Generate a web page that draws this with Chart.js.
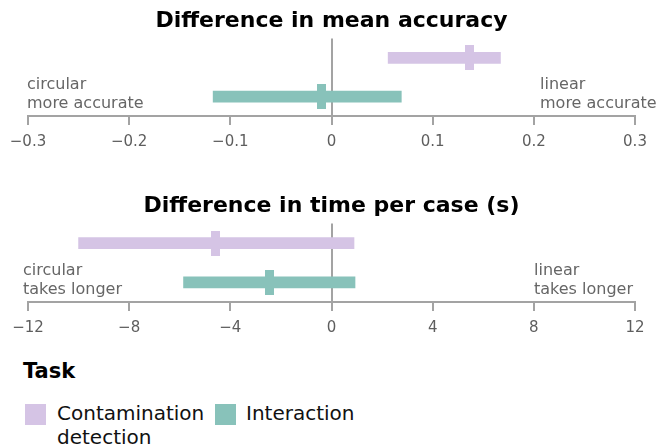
<!DOCTYPE html>
<html>
<head>
<meta charset="utf-8">
<script src="https://cdn.jsdelivr.net/npm/chart.js@4.4.1/dist/chart.umd.min.js"></script>
<style>
  body { margin: 0; background: #fff; font-family: "DejaVu Sans", sans-serif; }
  #wrap { position: relative; width: 670px; height: 446px; overflow: hidden; }
  canvas { position: absolute; left: 0; }
  #accuracy { top: 0; }
  #time { top: 185px; }
  .legend-title { position: absolute; left: 23px; top: 359px; font-size: 21px; line-height: 25px; font-weight: bold; color: #000; }
  .swatch { position: absolute; top: 404px; width: 21px; height: 21px; }
  .legend-text { position: absolute; top: 401px; font-size: 20px; line-height: 24px; color: #111; }
</style>
</head>
<body>
<div id="wrap">
  <canvas id="accuracy" width="670" height="159"></canvas>
  <canvas id="time" width="670" height="160"></canvas>
  <div class="legend-title">Task</div>
  <div class="swatch" style="left:25px;background:#d5c4e5"></div>
  <div class="legend-text" style="left:57px">Contamination<br>detection</div>
  <div class="swatch" style="left:215px;background:#88c2ba"></div>
  <div class="legend-text" style="left:246px">Interaction</div>
</div>
<script>
// tasks (one row each)
const tasks = ["Contamination detection", "Interaction"];
const taskColors = ["#d5c4e5", "#88c2ba"];

// difference in mean accuracy (linear - circular)
const accLow = [0.056, -0.117];
const accHigh = [0.167, 0.069];
const accMean = [0.136, -0.010];
const accTicks = [-0.3, -0.2, -0.1, 0, 0.1, 0.2, 0.3];
const accTickLabels = ["\u22120.3", "\u22120.2", "\u22120.1", "0", "0.1", "0.2", "0.3"];

// difference in time per case, seconds
const timeLow = [-10.0, -5.85];
const timeHigh = [0.89, 0.93];
const timeMean = [-4.57, -2.46];
const timeTicks = [-12, -8, -4, 0, 4, 8, 12];
const timeTickLabels = ["\u221212", "\u22128", "\u22124", "0", "4", "8", "12"];

const font = "DejaVu Sans";
const axisGrey = "#a3a3a3";

// small filled rectangle used as the mean marker
function meanMarker(color) {
    const c = document.createElement("canvas");
    c.width = 9;
    c.height = 25;
    const g = c.getContext("2d");
    g.fillStyle = color;
    g.fillRect(0, 0, 9, 25);
    return c;
}

// side notes at the lower corners of the plot
const notesPlugin = {
    id: "notes",
    afterDraw(chart, args, opts) {
        const { ctx, chartArea } = chart;
        ctx.save();
        ctx.font = "16px '" + font + "'";
        ctx.fillStyle = "#666";
        ctx.textAlign = "left";
        ctx.textBaseline = "alphabetic";
        opts.left.forEach((t, i) => ctx.fillText(t, opts.leftX, chartArea.bottom - 27 + i * 19));
        opts.right.forEach((t, i) => ctx.fillText(t, opts.rightX, chartArea.bottom - 27 + i * 19));
        ctx.restore();
    },
};

function makePanel(id, title, low, high, mean, tickVals, tickLabels, notes) {
    new Chart(document.getElementById(id), {
        type: "bar",
        data: {
            labels: tasks,
            datasets: [
                {
                    data: tasks.map((t, i) => [low[i], high[i]]),
                    backgroundColor: taskColors,
                    barThickness: 11,
                    borderWidth: 0,
                    borderSkipped: false,
                },
                {
                    type: "line",
                    data: tasks.map((t, i) => ({ x: mean[i], y: t })),
                    showLine: false,
                    pointStyle: taskColors.map(meanMarker),
                    pointRadius: 12,
                },
            ],
        },
        options: {
            indexAxis: "y",
            responsive: false,
            animation: false,
            layout: { padding: { left: 28, right: 35, top: 0, bottom: 0 } },
            plugins: {
                legend: { display: false },
                tooltip: { enabled: false },
                title: {
                    display: true,
                    text: title,
                    color: "#000",
                    font: { family: font, size: 22, weight: "bold" },
                    padding: { top: 8, bottom: 4 },
                },
                notes: notes,
            },
            scales: {
                x: {
                    type: "linear",
                    min: tickVals[0],
                    max: tickVals[tickVals.length - 1],
                    z: 1,
                    afterBuildTicks: (scale) => {
                        scale.ticks = tickVals.map((v) => ({ value: v }));
                    },
                    ticks: {
                        autoSkip: false,
                        maxRotation: 0,
                        padding: 8,
                        color: "#5e5e5e",
                        font: { family: font, size: 15 },
                        callback: (value, index) => tickLabels[index],
                    },
                    grid: {
                        color: (ctx) => (ctx.tick && ctx.tick.value === 0 ? axisGrey : "rgba(0,0,0,0)"),
                        lineWidth: 2,
                        tickColor: axisGrey,
                        tickLength: 9,
                        tickWidth: 2,
                    },
                    border: { color: axisGrey, width: 2 },
                },
                y: {
                    type: "category",
                    display: false,
                },
            },
        },
        plugins: [notesPlugin],
    });
}

makePanel("accuracy", "Difference in mean accuracy", accLow, accHigh, accMean,
    accTicks, accTickLabels,
    { left: ["circular", "more accurate"], right: ["linear", "more accurate"], leftX: 27, rightX: 540 });

makePanel("time", "Difference in time per case (s)", timeLow, timeHigh, timeMean,
    timeTicks, timeTickLabels,
    { left: ["circular", "takes longer"], right: ["linear", "takes longer"], leftX: 23, rightX: 534 });
</script>
</body>
</html>
